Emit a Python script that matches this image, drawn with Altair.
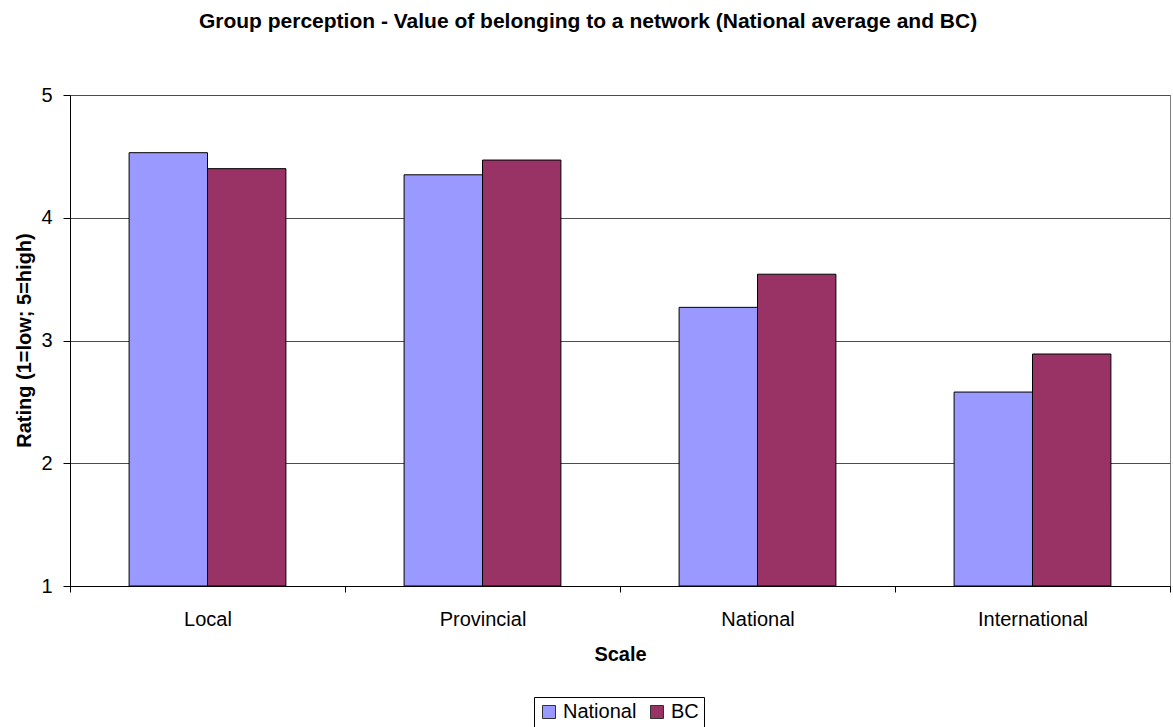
import altair as alt
import pandas as pd

# Mean ratings by network scale, national average vs British Columbia
scales = ["Local", "Provincial", "National", "International"]
national = [4.53, 4.35, 3.27, 2.58]
bc = [4.40, 4.47, 3.54, 2.89]
series = ["National", "BC"]
colors = ["#9999FF", "#993366"]

rows = []
for i, s in enumerate(scales):
    rows.append({"Scale": s, "Group": "National", "Rating": national[i]})
    rows.append({"Scale": s, "Group": "BC", "Rating": bc[i]})
df = pd.DataFrame(rows)

FONT = "Liberation Sans"

bars = alt.Chart(df).mark_bar(stroke="black", strokeWidth=1).encode(
    x=alt.X(
        "Scale:N",
        sort=scales,
        scale=alt.Scale(paddingInner=0, paddingOuter=0),
        axis=alt.Axis(
            title="Scale",
            labelAngle=0,
            tickBand="extent",
            tickSize=6,
            tickColor="black",
            domainColor="black",
            labelPadding=17,
            labelFontSize=20,
            labelColor="black",
            titleFontSize=20,
            titleFontWeight="bold",
            titleColor="black",
            titleX=550,
            titleY=68,
            titleBaseline="middle",
            grid=False,
        ),
    ),
    # bars of a category sit side by side in the middle of its slot
    xOffset=alt.XOffset(
        "Group:N", sort=series, scale=alt.Scale(paddingInner=0, paddingOuter=0.754)
    ),
    y=alt.Y(
        "Rating:Q",
        scale=alt.Scale(domain=[1, 5], zero=False, nice=False),
        axis=alt.Axis(
            title="Rating (1=low; 5=high)",
            values=[1, 2, 3, 4, 5],
            format="d",
            tickSize=7,
            tickColor="black",
            domainColor="black",
            labelPadding=11,
            labelFontSize=20,
            labelColor="black",
            gridColor="#4d4d4d",
            gridWidth=1,
            titleFontSize=20,
            titleFontWeight="bold",
            titleColor="black",
            titleAngle=270,
            titleBaseline="middle",
            titleX=-46,
            titleY=245,
        ),
    ),
    y2=alt.datum(1),
    color=alt.Color(
        "Group:N",
        sort=series,
        scale=alt.Scale(domain=series, range=colors),
        legend=alt.Legend(
            title=None,
            orient="none",
            direction="horizontal",
            legendX=464,
            legendY=602,
            symbolType="square",
            symbolSize=169,
            symbolStrokeColor="#333333",
            symbolStrokeWidth=1,
            labelFontSize=20,
            labelColor="black",
            labelOffset=4,
            columnPadding=10,
            padding=5,
            strokeColor="black",
        ),
    ),
)

chart = bars.properties(
    width=1100,
    height=491,
    autosize=alt.AutoSizeParams(type="none"),
    padding={"left": 70, "top": 95, "right": 3, "bottom": 141},
    title=alt.TitleParams(
        "Group perception - Value of belonging to a network (National average and BC)",
        fontSize=21,
        fontWeight="bold",
        color="black",
        anchor="middle",
        dx=-32,
        offset=53,
    ),
).configure(font=FONT).configure_view(stroke="#808080", strokeWidth=1).configure_axis(
    labelFont=FONT, titleFont=FONT
)

chart.save("out.html", embed_options={"renderer": "svg", "actions": False})
